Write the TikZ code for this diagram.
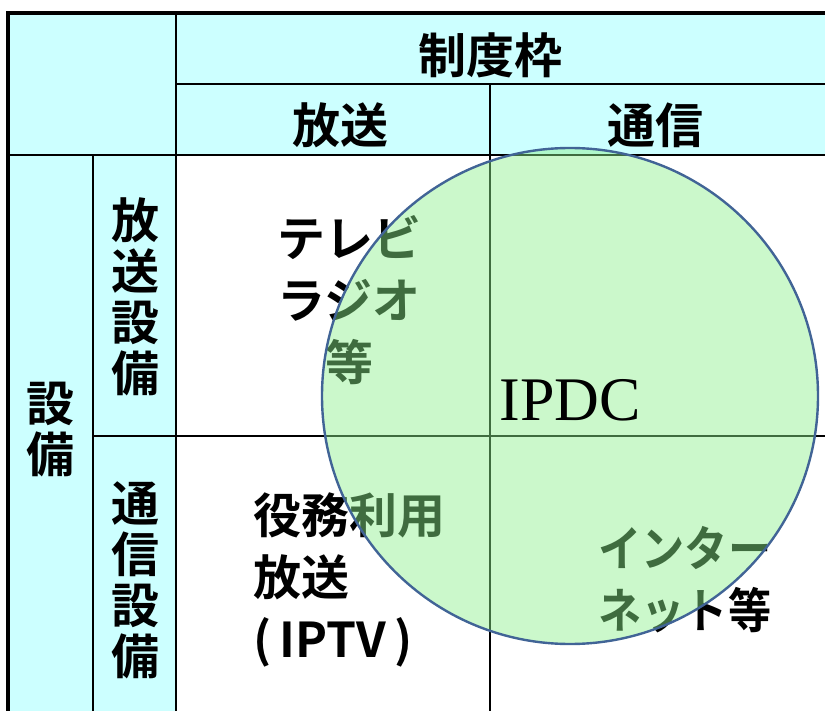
\documentclass[tikz,border=0pt]{standalone}
\usepackage{fontspec}
\setmainfont{Liberation Serif}
\newfontfamily\jpfont{Noto Sans CJK JP}[BoldFont={Noto Sans CJK JP Bold}]
\definecolor{headcyan}{RGB}{204,255,255}
\definecolor{ipdcgreen}{RGB}{140,240,140}
\definecolor{ipdcedge}{RGB}{65,100,150}

\tikzset{
  thickrule/.style={line width=1.6pt},
  thinrule/.style={line width=0.7pt},
  jplabel/.style={font=\jpfont\bfseries\fontsize{24}{31}\selectfont, inner sep=0pt},
  vlabel/.style={jplabel, align=center, font=\jpfont\bfseries\fontsize{24}{25.5}\selectfont}
}

\begin{document}
\begin{tikzpicture}[x=0.5pt,y=-0.5pt]
        \useasboundingbox (0,0) rectangle (825,711);

        % header shading
        \fill[headcyan] (8,13) rectangle (825,155);
        \fill[headcyan] (8,155) rectangle (176,711);

        % grid
        \draw[thinrule] (176,84) -- (825,84);
        \draw[thinrule] (8,155) -- (825,155);
        \draw[thinrule] (93,436) -- (825,436);
        \draw[thinrule] (176,13) -- (176,711);
        \draw[thinrule] (93,155) -- (93,711);
        \draw[thinrule] (490,84) -- (490,711);
        \draw[thickrule] (8,711) -- (8,13) -- (825,13);

        % headers
        \node[jplabel] (frame) at (490,55) {制度枠};
        \node[jplabel] (hoso) at (340,125) {放送};
        \node[jplabel] (tsushin) at (655,125) {通信};
        \node[vlabel] (setsubi) at (50,430) {設\\備};
        \node[vlabel] (hososet) at (135,297) {放\\送\\設\\備};
        \node[vlabel] (tsuset) at (135,580) {通\\信\\設\\備};

        % cells
        \node[jplabel, align=center] (tv) at (349,300) {テレビ\\ラジオ\\等};
        \node[jplabel, align=left, anchor=west] (iptv) at (253,580) {役務利用\\放送\\(\,IPTV\,)};
        \node[jplabel, align=left, anchor=west] (inet) at (598,580) {\scalebox{0.9}[1]{インター}\\\scalebox{0.9}[1]{ネット等}};

        % IPDC circle
        \filldraw[draw=ipdcedge, line width=1.2pt, fill=ipdcgreen, fill opacity=0.45] (570,396) circle (248);
        \node[font=\fontsize{31}{31}\selectfont, inner sep=0pt] (ipdc) at (570,400) {IPDC};

    \end{tikzpicture}
\end{document}
